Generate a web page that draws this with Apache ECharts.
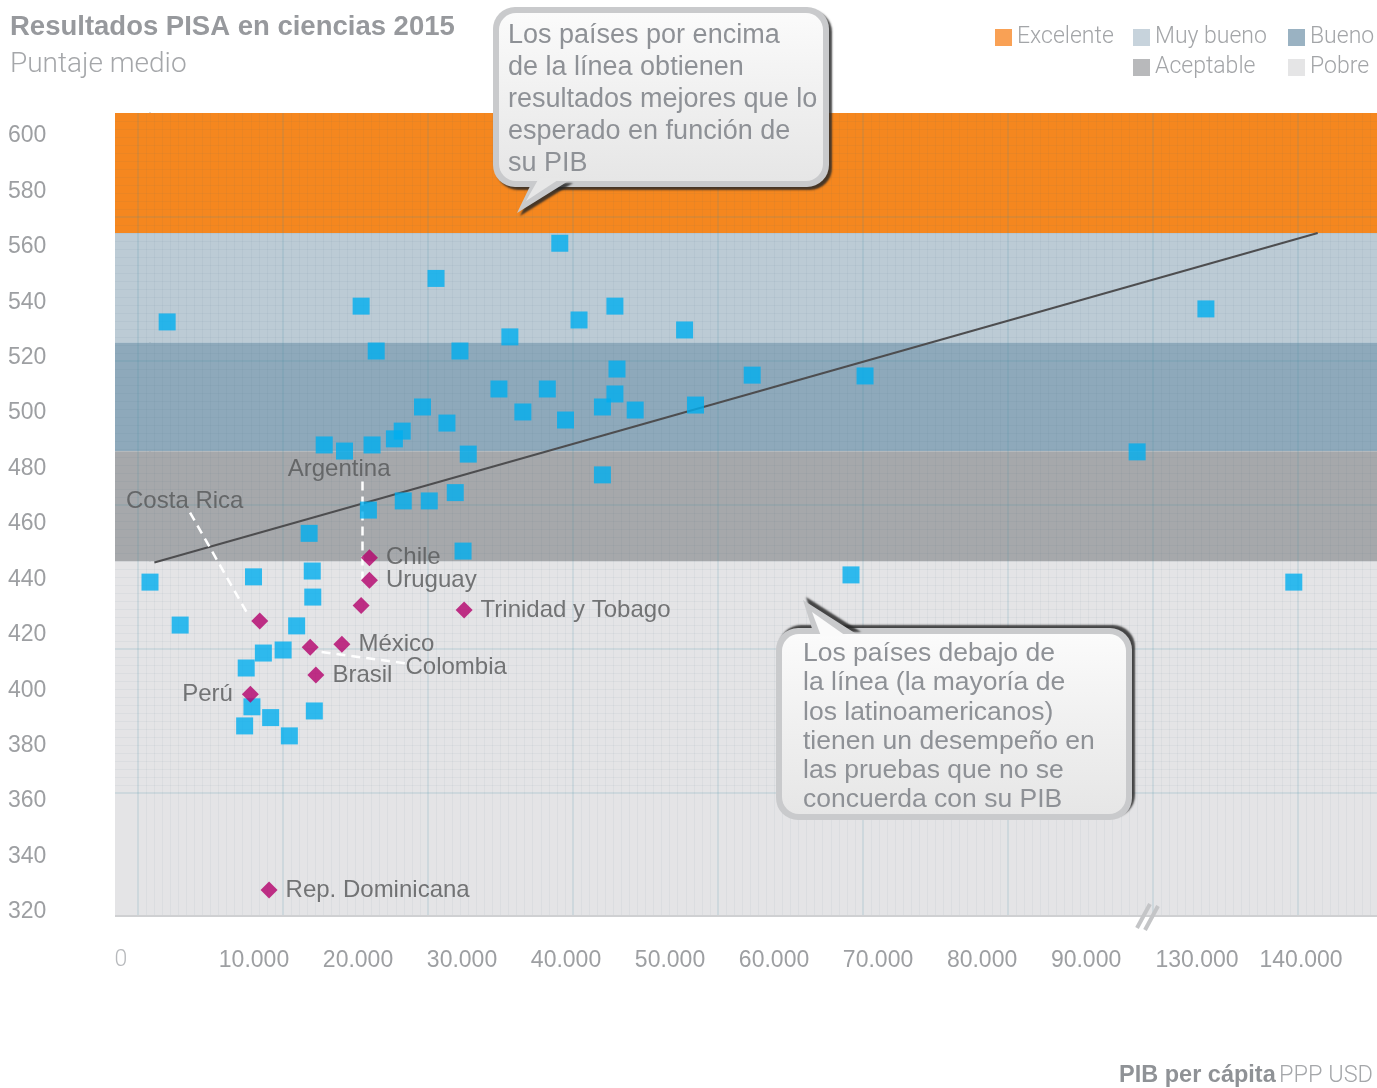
<!DOCTYPE html>
<html>
<head>
<meta charset="utf-8">
<script src="https://cdn.jsdelivr.net/npm/echarts@6/dist/echarts.min.js"></script>
<style>
html, body { margin: 0; padding: 0; background: #fff; }
#chart { width: 1377px; height: 1088px; }
</style>
</head>
<body>
<div id="chart"></div>
<script>
var chart = echarts.init(document.getElementById('chart'));

var FUENTE = '"Liberation Sans", Arial, sans-serif';
var FUENTE_FINA = 'Roboto, "Liberation Sans", sans-serif';

// niveles de desempeño (bandas de fondo)
var niveles = ['Excelente', 'Muy bueno', 'Bueno', 'Aceptable', 'Pobre'];
var nivelDesde = [565, 525.5, 486.2, 446.4, 318.5];
var nivelHasta = [608.3, 565, 525.5, 486.2, 446.4];

// resto de países: PIB per cápita (PPP USD) y puntaje medio
var paisPIB = [39400, 27500, 20300, 44700, 41250, 51400, 34600, 21750, 29800, 44900,
  33550, 38200, 44700, 43500, 46650, 52450, 26200, 35850, 39950, 28550,
  24250, 23500, 16750, 18700, 21350, 30600, 43500, 24350, 26850, 29350,
  1650, 57900, 68750, 130850, 108400, 0, 2900, 9950, 15600, 15650,
  15300, 21000, 30100, 14100, 12800, 10900, 9250, 9800, 11600, 9100,
  13400, 15800, 139300, 67400];
var paisPuntaje = [561.3, 548.6, 538.6, 538.6, 533.6, 530.0, 527.5, 522.4, 522.4, 515.9,
  508.7, 508.7, 506.9, 502.2, 501.1, 502.9, 502.2, 500.4, 497.5, 496.4,
  493.5, 490.7, 488.5, 486.3, 488.5, 485.2, 477.7, 468.3, 468.3, 471.3,
  532.9, 513.7, 513.4, 537.6, 486.0, 439.0, 423.5, 440.9, 443.0, 433.6,
  456.6, 465.0, 450.2, 423.2, 414.5, 413.4, 408.0, 394.0, 390.1, 387.1,
  383.5, 392.5, 439.0, 441.6];

// América Latina
var latamNombres = ['Costa Rica', 'Chile', 'Uruguay', 'Argentina', 'Trinidad y Tobago',
  'México', 'Colombia', 'Brasil', 'Perú', 'Rep. Dominicana'];
var latamPIB = [10550, 21100, 21100, 20300, 30200, 18450, 15400, 15950, 9650, 11450];
var latamPuntaje = [425.0, 447.8, 439.7, 430.6, 428.9, 416.6, 415.5, 405.5, 398.5, 327.9];

// línea de tendencia
var tendenciaPIB = [420, 141600];
var tendenciaPuntaje = [446.1, 565];

// líneas guía de etiquetas: [desde, hasta]
var guiaPIB = [[3850, 9450], [20400, 20400], [24500, 15850]];
var guiaPuntaje = [[464.1, 427.1], [475.3, 437.4], [409.7, 414.1]];

var ticksPIB = [10000, 20000, 30000, 40000, 50000, 60000, 70000, 80000, 90000, 130000, 140000];
var ticksPuntaje = [320, 340, 360, 380, 400, 420, 440, 460, 480, 500, 520, 540, 560, 580, 600];

// estilos
var colorNivel = ['#f5871f', '#bccbd5', '#8ea9bb', '#a6a8ab', '#e4e4e6'];
var colorLeyenda = ['#f7892a', '#b9c8d3', '#819fb3', '#a6a7aa', '#dedfe0'];
var posLeyenda = [[995, 26], [1133, 26], [1288, 26], [1133, 56], [1288, 56]];
var etiquetaEspecial = {
  'Costa Rica': { position: 'inside', offset: [-75, -120] },
  'Argentina': { position: 'inside', offset: [-22, -136] },
  'Colombia': { position: 'inside', offset: [146, 20] },
  'Perú': { position: 'left', distance: 9 }
};

var series = [];
niveles.forEach(function (n, i) {
  var s = {
    name: n,
    type: 'scatter',
    data: [],
    itemStyle: { color: colorLeyenda[i] },
    z: 1,
    markArea: {
      silent: true,
      itemStyle: { color: colorNivel[i] },
      data: [[{ yAxis: nivelDesde[i] }, { yAxis: nivelHasta[i] }]]
    }
  };
  if (i === niveles.length - 1) {
    // borde inferior del área
    s.markLine = {
      silent: true,
      symbol: ['none', 'none'],
      label: { show: false },
      lineStyle: { color: '#cfd0d2', width: 2, type: 'solid' },
      data: [{ yAxis: nivelDesde[i] }]
    };
  }
  series.push(s);
});

series.push({
  type: 'line',
  data: tendenciaPIB.map(function (x, i) { return [x, tendenciaPuntaje[i]]; }),
  symbol: 'none',
  lineStyle: { color: '#4d4d4f', width: 2 },
  silent: true,
  z: 4
});

series.push({
  type: 'scatter',
  data: paisPIB.map(function (x, i) { return [x, paisPuntaje[i]]; }),
  symbol: 'rect',
  symbolSize: 17,
  itemStyle: { color: '#00aeef' },
  emphasis: { disabled: true },
  z: 6
});

series.push({
  type: 'scatter',
  data: latamNombres.map(function (n, i) {
    var lab = etiquetaEspecial[n] || { position: 'right', distance: 8 };
    return { name: n, value: [latamPIB[i], latamPuntaje[i]], label: lab };
  }),
  symbol: 'diamond',
  symbolSize: 17,
  itemStyle: { color: '#b3006c' },
  emphasis: { disabled: true },
  label: {
    show: true,
    formatter: '{b}',
    color: '#555658',
    fontSize: 24,
    fontFamily: FUENTE
  },
  markLine: {
    silent: true,
    symbol: ['none', 'none'],
    label: { show: false },
    lineStyle: { color: '#ffffff', type: [9, 6], width: 2.5 },
    data: guiaPIB.map(function (g, i) {
      return [{ coord: [g[0], guiaPuntaje[i][0]] }, { coord: [g[1], guiaPuntaje[i][1]] }];
    })
  },
  z: 7
});

var leyendas = niveles.map(function (n, i) {
  return {
    data: [n],
    left: posLeyenda[i][0],
    top: posLeyenda[i][1],
    padding: 0,
    icon: 'rect',
    itemWidth: 17,
    itemHeight: 17,
    selectedMode: false,
    textStyle: { fontSize: 23, fontWeight: 300, fontFamily: FUENTE_FINA, color: '#a3a5a8' }
  };
});

function burbuja(x, y, w, h, cola, sombraX, sombraY) {
  return [
    { type: 'rect', shape: { x: x, y: y, width: w, height: h, r: 22 }, z: 20,
      style: { fill: '#c9cacc', shadowColor: 'rgba(40,40,40,0.85)', shadowOffsetX: sombraX, shadowOffsetY: sombraY, shadowBlur: 2 } },
    { type: 'polygon', shape: { points: cola }, z: 20,
      style: { fill: '#c9cacc', shadowColor: 'rgba(40,40,40,0.85)', shadowOffsetX: sombraX, shadowOffsetY: sombraY, shadowBlur: 2 } },
    { type: 'rect', shape: { x: x + 6, y: y + 6, width: w - 12, height: h - 12, r: 17 }, z: 21,
      style: { fill: { type: 'linear', x: 0, y: 0, x2: 0, y2: 1,
        colorStops: [{ offset: 0, color: '#fbfbfb' }, { offset: 0.45, color: '#f1f1f1' }, { offset: 1, color: '#e6e6e6' }] } } }
  ];
}

var graficos = [];
// burbuja superior
graficos = graficos.concat(burbuja(493, 7, 336, 180, [[533, 180], [517, 213], [570, 180]], 3, 3));
graficos.push({ type: 'polygon', z: 21, shape: { points: [[539, 178], [526, 201], [561, 178]] }, style: { fill: '#e7e7e7' } });
graficos.push({ type: 'text', z: 22, style: {
  text: 'Los países por encima\nde la línea obtienen\nresultados mejores que lo\nesperado en función de\nsu PIB',
  x: 508, y: 20, fontSize: 27, lineHeight: 32, fontFamily: FUENTE, fill: '#8e9196' } });
// burbuja inferior
graficos = graficos.concat(burbuja(776, 628, 356, 192, [[814, 635], [803, 600], [858, 635]], 3, -3));
graficos.push({ type: 'polygon', z: 21, shape: { points: [[821, 636], [812, 612], [846, 636]] }, style: { fill: '#fafafa' } });
graficos.push({ type: 'text', z: 22, style: {
  text: 'Los países debajo de\nla línea (la mayoría de\nlos latinoamericanos)\ntienen un desempeño en\nlas pruebas que no se\nconcuerda con su PIB',
  x: 803, y: 639, fontSize: 26.5, lineHeight: 29.3, fontFamily: FUENTE, fill: '#8e9196' } });
// cero del eje x
graficos.push({ type: 'text', style: { text: '0', x: 121, y: 960, align: 'center', verticalAlign: 'middle',
  fontSize: 23, fontWeight: 300, fontFamily: FUENTE_FINA, fill: '#b7b9bc' } });
// marca de corte del eje
graficos.push({ type: 'line', z: 30, shape: { x1: 1137, y1: 928, x2: 1150, y2: 904 }, style: { stroke: '#c4c5c7', lineWidth: 4 } });
graficos.push({ type: 'line', z: 30, shape: { x1: 1145, y1: 930, x2: 1158, y2: 906 }, style: { stroke: '#c4c5c7', lineWidth: 4 } });
// nombre del eje x
graficos.push({ type: 'text', style: {
  text: '{b|PIB per cápita} {l|PPP USD}', x: 1373, y: 1076, align: 'right', verticalAlign: 'middle',
  rich: {
    b: { fontSize: 23.5, fontWeight: 'bold', fontFamily: FUENTE, fill: '#8f9296' },
    l: { fontSize: 23.5, fontWeight: 300, fontFamily: FUENTE_FINA, fill: '#a5a7aa' }
  } } });

// textura de papel milimetrado (ejes auxiliares sin datos)
var lineaMayor = { show: true, lineStyle: { color: 'rgba(60,140,160,0.13)', width: 2 } };
var lineaMenor = { show: true, lineStyle: { color: 'rgba(50,90,110,0.05)', width: 1 } };
var ejeOculto = { axisLine: { show: false }, axisTick: { show: false }, axisLabel: { show: false }, splitLine: { show: false } };

var option = {
  animation: false,
  backgroundColor: '#ffffff',
  title: {
    text: 'Resultados PISA en ciencias 2015',
    subtext: 'Puntaje medio',
    left: 10,
    top: 11,
    padding: 0,
    itemGap: 6,
    textStyle: { fontSize: 27.5, fontWeight: 'bold', fontFamily: FUENTE, color: '#97999d', lineHeight: 32 },
    subtextStyle: { fontSize: 28, fontWeight: 300, fontFamily: FUENTE_FINA, color: '#a5a7aa', lineHeight: 32 }
  },
  legend: leyendas,
  grid: [
    { left: 115, top: 113, width: 1262, height: 803, outerBoundsMode: 'none' },
    { left: 138, top: 113, width: 1239, height: 803, outerBoundsMode: 'none' },
    { left: 115, top: 113, width: 1262, height: 680, outerBoundsMode: 'none' }
  ],
  xAxis: [
    {
      type: 'value',
      gridIndex: 0,
      min: -3365,
      max: 147300,
      breaks: [{ start: 90000, end: 130000, gap: 10673 }],
      breakArea: { show: false },
      axisLine: { show: false },
      axisTick: { show: false },
      splitLine: { show: false },
      axisLabel: {
        customValues: ticksPIB,
        margin: 33,
        fontSize: 23,
        fontFamily: FUENTE,
        color: '#9d9fa2',
        formatter: function (v) { return (v / 1000) + '.000'; }
      }
    },
    {
      type: 'value', gridIndex: 1, min: 0, max: 1239, interval: 145, z: 3,
      axisLine: { show: false }, axisTick: { show: false }, axisLabel: { show: false },
      minorTick: { show: false, splitNumber: 18 },
      minorSplitLine: lineaMenor,
      splitLine: { show: true, showMinLine: true, showMaxLine: false, lineStyle: lineaMayor.lineStyle }
    },
    Object.assign({ type: 'value', gridIndex: 2, min: 0, max: 1262 }, ejeOculto)
  ],
  yAxis: [
    {
      type: 'value',
      gridIndex: 0,
      min: 318.5,
      max: 608.3,
      axisLine: { show: true, lineStyle: { color: 'rgba(60,70,80,0.25)', width: 2 } },
      axisTick: { show: false },
      splitLine: { show: false },
      axisLabel: {
        customValues: ticksPuntaje,
        align: 'left',
        margin: 107,
        fontSize: 23,
        fontFamily: FUENTE,
        color: '#9d9fa2'
      }
    },
    Object.assign({ type: 'value', gridIndex: 1, min: 0, max: 803 }, ejeOculto),
    {
      type: 'value', gridIndex: 2, min: 0, max: 680, interval: 144, z: 3,
      axisLine: { show: false }, axisTick: { show: false }, axisLabel: { show: false },
      minorTick: { show: false, splitNumber: 18 },
      minorSplitLine: lineaMenor,
      splitLine: { show: true, showMinLine: true, showMaxLine: false, lineStyle: lineaMayor.lineStyle }
    }
  ],
  series: series,
  graphic: graficos
};

chart.setOption(option);
</script>
</body>
</html>
